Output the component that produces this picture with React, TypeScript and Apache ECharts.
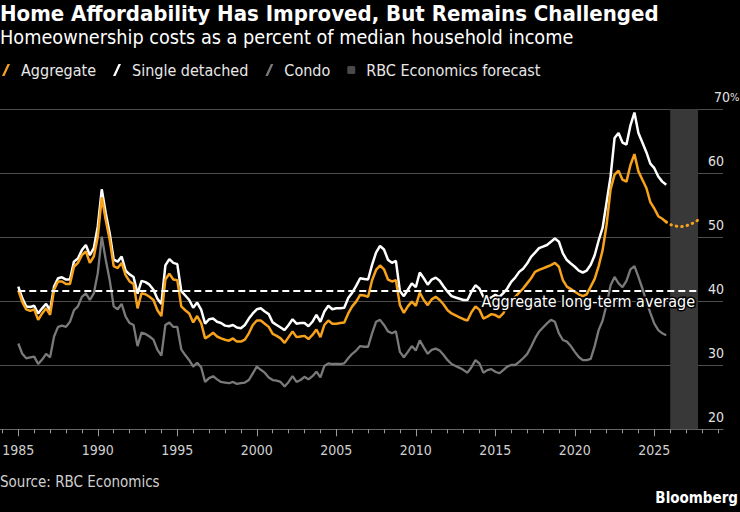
import React, { useEffect, useRef } from "react";
import * as echarts from "echarts";

const START_YEAR = 1985;
const AVERAGE = 41.7;
const FORECAST_START = 2025.75;
const BAND = [2026, 2027.75];
const MAJOR_YEARS = [1985, 1990, 1995, 2000, 2005, 2010, 2015, 2020, 2025];
const MINOR_YEARS = [1984,1985,1986,1987,1988,1989,1990,1991,1992,1993,1994,1995,1996,1997,1998,1999,2000,2001,2002,2003,2004,2005,2006,2007,2008,2009,2010,2011,2012,2013,2014,2015,2016,2017,2018,2019,2020,2021,2022,2023,2024,2025,2026,2027,2028,2029];
const Y_TICKS = [20, 30, 40, 50, 60, 70];

// Quarterly values from 1985 Q1
const aggregate = [41.7,39.9,38.75,38.5,38.75,37.1,38.1,38.9,37.9,41.8,
43.1,43.1,42.7,42.7,45.4,46.0,47.2,47.8,46.0,47.0,
50.1,56.25,52.7,49.6,45.5,45.2,46.0,44.1,43.1,42.7,
38.9,41.25,41.1,40.7,40.2,38.6,37.7,43.4,44.3,43.4,
43.3,39.2,38.6,38.1,36.7,37.7,36.6,34.2,34.6,35.1,
34.5,34.2,34.0,33.85,34.2,33.7,33.7,34.0,35.0,36.3,
37.0,37.0,36.5,36.0,34.9,34.6,34.2,33.5,34.4,35.3,
34.4,34.5,34.6,34.1,34.75,35.6,34.4,36.3,37.0,36.5,
36.5,36.6,36.7,38.1,39.2,39.95,41.0,40.9,40.7,43.3,
44.9,45.6,45.0,43.4,43.1,43.3,39.4,38.2,39.2,39.95,
39.3,41.35,40.2,39.4,40.3,40.7,40.2,39.5,38.6,38.1,
37.8,37.5,37.2,37.0,38.3,39.2,38.7,37.3,37.6,38.0,
37.85,37.5,38.1,39.4,40.1,40.7,41.35,42.0,42.8,43.6,
44.6,44.9,45.15,45.4,45.65,46.0,45.4,43.3,42.3,41.9,
41.5,41.1,40.8,41.1,42.3,43.5,45.5,48.0,52.0,57.5,
59.8,60.4,59.0,58.7,61.3,63.0,60.3,59.0,57.7,55.5,
54.5,53.3,52.9,52.4];

const singleDetached = [42.3,40.5,39.2,39.1,39.3,38.1,38.9,39.6,38.6,42.3,
43.6,43.75,43.4,43.4,46.2,46.7,48.0,48.8,47.2,48.3,
51.7,57.5,53.75,50.6,46.5,46.2,47.0,44.8,44.2,43.8,
41.2,43.2,43.0,42.6,41.8,40.4,39.6,45.6,46.6,46.0,
45.8,41.6,40.9,40.2,39.0,39.8,38.7,36.5,37.2,37.3,
36.8,36.6,36.2,36.1,36.3,35.9,35.8,36.3,37.3,38.1,
38.75,38.9,38.4,38.0,36.7,36.3,35.9,35.5,36.3,37.2,
36.5,36.6,36.6,36.1,36.8,37.9,36.8,38.4,39.3,38.75,
38.9,38.9,39.0,40.5,41.35,42.4,43.6,43.5,43.4,45.7,
47.6,48.65,48.1,46.5,46.0,46.3,41.6,40.8,41.8,42.8,
42.2,44.5,43.6,42.6,43.4,43.7,43.2,42.3,41.5,40.8,
40.6,40.4,40.2,40.2,41.5,42.5,42.0,40.7,40.3,40.6,
41.0,40.7,41.25,42.0,43.05,43.7,44.6,45.1,45.9,46.95,
47.6,48.3,48.55,48.8,49.3,49.8,49.3,47.5,46.45,45.9,
45.4,44.8,44.5,44.8,45.7,47.2,49.5,51.5,55.5,59.5,
65.5,66.3,64.8,64.5,67.5,69.5,66.3,64.8,63.3,61.5,
60.8,59.5,58.7,58.2];

const condo = [33.4,31.8,31.1,31.25,31.35,30.2,30.9,31.8,31.25,34.5,
36.0,36.2,36.0,36.8,38.6,39.2,40.7,41.25,40.2,41.25,
44.4,50.1,46.5,43.3,39.2,38.75,39.6,37.6,36.6,36.3,
33.0,35.1,34.9,34.5,34.0,32.4,31.5,36.3,36.7,36.0,
36.0,32.5,31.6,30.8,29.8,30.4,29.7,27.4,28.0,28.3,
27.8,27.4,27.3,27.2,27.4,27.1,27.2,27.3,27.7,28.75,
29.8,29.3,28.85,28.1,27.7,27.6,27.4,26.7,27.4,28.3,
27.4,27.7,28.2,27.8,28.3,29.0,28.1,29.9,30.3,30.2,
30.2,30.2,30.3,31.1,31.8,32.3,33.0,32.9,32.9,35.0,
36.8,37.1,36.3,35.3,35.0,35.3,32.1,31.25,32.1,33.0,
32.3,33.9,32.8,31.8,32.4,32.6,32.3,31.6,30.8,30.2,
29.9,29.6,29.25,28.85,29.7,30.8,30.3,28.85,29.25,29.4,
29.0,28.75,29.25,29.8,30.05,30.05,30.55,31.1,31.75,32.9,
34.2,35.25,35.9,36.55,37.1,36.8,35.0,33.95,33.7,33.0,
32.1,31.3,30.8,30.8,31.0,33.0,35.5,37.0,39.5,42.5,
43.8,42.8,42.2,43.2,45.0,45.5,43.8,42.0,40.0,38.2,
36.5,35.5,35.0,34.7];

// Aggregate forecast, quarterly from 2025 Q4
const aggregateForecast = [52.4, 52.0, 51.8, 51.7, 51.7, 51.8, 52.0, 52.3, 52.7];

const FONT = '"DejaVu Sans Condensed", "DejaVu Sans", sans-serif';
const ORANGE = "#f7a21b";
const GRAY = "#7a7a7a";
const SLASH = "path://M5.5,0 L8,0 L2.5,12 L0,12 Z";
const SQUARE = "path://M1.5,0 L6.5,0 Q8,0 8,1.5 L8,6.5 Q8,8 6.5,8 L1.5,8 Q0,8 0,6.5 L0,1.5 Q0,0 1.5,0 Z";

const quarterly = (vals: number[], start: number) => vals.map((v, i) => [start + i / 4, v]);

export default function App() {
  const ref = useRef<HTMLDivElement>(null);
  useEffect(() => {
    const chart = echarts.init(ref.current!, null, { renderer: "svg" });
    const xMin = 1983.85;
    const xMax = 2029.32;
    const option: any = {
      animation: false,
      backgroundColor: "#000",
      title: [
        {
          text: "Home Affordability Has Improved, But Remains Challenged",
          subtext: "Homeownership costs as a percent of median household income",
          left: 0,
          top: 2,
          padding: 0,
          itemGap: 3,
          textStyle: { color: "#fff", fontSize: 22, fontWeight: "bold", fontFamily: FONT },
          subtextStyle: { color: "#fff", fontSize: 19.7, fontFamily: FONT },
        },
        {
          text: "Source: RBC Economics",
          left: 0,
          top: 474,
          padding: 0,
          textStyle: { color: "#d0d0d0", fontSize: 15, fontWeight: "normal", fontFamily: FONT },
        },
        {
          text: "Bloomberg",
          right: 2,
          top: 490,
          padding: 0,
          textStyle: { color: "#fff", fontSize: 15, fontWeight: "bold", fontFamily: FONT },
        },
      ],
      legend: {
        left: 2,
        top: 62,
        padding: 0,
        itemWidth: 8,
        itemHeight: 12,
        itemGap: 17,
        selectedMode: false,
        textStyle: { color: "#e8e8e8", fontSize: 16, fontFamily: FONT, padding: [0, 0, 0, 6] },
        data: [
          { name: "Aggregate", icon: SLASH },
          { name: "Single detached", icon: SLASH },
          { name: "Condo", icon: SLASH },
          { name: "RBC Economics forecast", icon: SQUARE, itemStyle: { color: "#4a4a4a" } },
        ],
      },
      grid: { left: 0, right: 17, top: 109.3, bottom: 82.7, containLabel: false, outerBoundsMode: "none" },
      xAxis: [
        {
          type: "value",
          min: xMin,
          max: xMax,
          axisLine: { show: true, lineStyle: { color: "#666", width: 1 } },
          axisTick: { show: true, customValues: MAJOR_YEARS, length: 7, lineStyle: { color: "#999" } },
          axisLabel: {
            customValues: MAJOR_YEARS,
            color: "#d0d0d0",
            fontSize: 14,
            fontFamily: FONT,
            margin: 14,
            formatter: (v: number) => String(v),
          },
          splitLine: { show: false },
        },
        {
          type: "value",
          min: xMin,
          max: xMax,
          position: "bottom",
          axisLine: { show: false },
          axisTick: { show: true, customValues: MINOR_YEARS, length: 4, lineStyle: { color: "#999" } },
          axisLabel: { show: false },
          splitLine: { show: false },
        },
      ],
      yAxis: {
        type: "value",
        position: "right",
        min: Y_TICKS[0],
        max: Y_TICKS[Y_TICKS.length - 1],
        interval: 10,
        axisLine: { show: false },
        axisTick: { show: false },
        splitLine: { show: true, lineStyle: { color: "#4d4d4d", width: 1 } },
        axisLabel: {
          inside: true,
          margin: 15,
          align: "left",
          verticalAlign: "bottom",
          color: "#e0e0e0",
          fontSize: 14,
          fontFamily: FONT,
          formatter: (v: number) => (v === 70 ? "{p|70}{s|%}" : "{n|" + v + "}"),
          rich: {
            n: { color: "#e0e0e0", fontSize: 14, fontFamily: FONT, padding: [0, 0, 5, 0] },
            p: { color: "#e0e0e0", fontSize: 14, fontFamily: FONT, padding: [0, 0, 5, 6] },
            s: { color: "#e0e0e0", fontSize: 11, fontFamily: FONT, padding: [0, 0, 5, 0] },
          },
        },
      },
      series: [
        {
          name: "RBC Economics forecast",
          type: "line",
          z: 4,
          data: quarterly(aggregateForecast, FORECAST_START),
          showSymbol: false,
          symbol: "none",
          color: ORANGE,
          lineStyle: { color: ORANGE, width: 3, type: [0.5, 5], cap: "round" },
          silent: true,
          markArea: {
            silent: true,
            z: 1,
            itemStyle: { color: "#383838" },
            data: [[{ xAxis: BAND[0] }, { xAxis: BAND[1] }]],
          },
        },
        {
          name: "Condo",
          type: "line",
          z: 3,
          data: quarterly(condo, START_YEAR),
          showSymbol: false,
          symbol: "none",
          color: GRAY,
          lineStyle: { color: GRAY, width: 2.3 },
          silent: true,
        },
        {
          name: "Single detached",
          type: "line",
          z: 4,
          data: quarterly(singleDetached, START_YEAR),
          showSymbol: false,
          symbol: "none",
          color: "#ffffff",
          lineStyle: { color: "#ffffff", width: 2.5 },
          silent: true,
        },
        {
          name: "Aggregate",
          type: "line",
          z: 5,
          data: quarterly(aggregate, START_YEAR),
          showSymbol: false,
          symbol: "none",
          color: ORANGE,
          lineStyle: { color: ORANGE, width: 2.5 },
          silent: true,
        },
        {
          name: "Aggregate long-term average",
          type: "line",
          z: 6,
          silent: true,
          symbol: "none",
          showSymbol: false,
          color: "#fff",
          lineStyle: { color: "rgba(0,0,0,0)", width: 0 },
          data: [
            [START_YEAR, AVERAGE],
            [BAND[1], AVERAGE],
          ],
          markLine: {
            silent: true,
            symbol: "none",
            z: 6,
            lineStyle: { color: "#fff", width: 2, type: [7, 4] },
            label: {
              show: true,
              position: "insideEndBottom",
              distance: 3,
              formatter: "Aggregate long-term average",
              color: "#fff",
              fontSize: 16,
              fontFamily: FONT,
              textBorderColor: "#000",
              textBorderWidth: 3,
            },
            data: [[{ coord: [START_YEAR, AVERAGE] }, { coord: [BAND[1], AVERAGE] }]],
          },
        },
      ],
    };
    chart.setOption(option);
    return () => chart.dispose();
  }, []);
  return (
    <div
      ref={ref}
      style={{ position: "absolute", left: 0, top: 0, width: 740, height: 512, background: "#000" }}
    />
  );
}
